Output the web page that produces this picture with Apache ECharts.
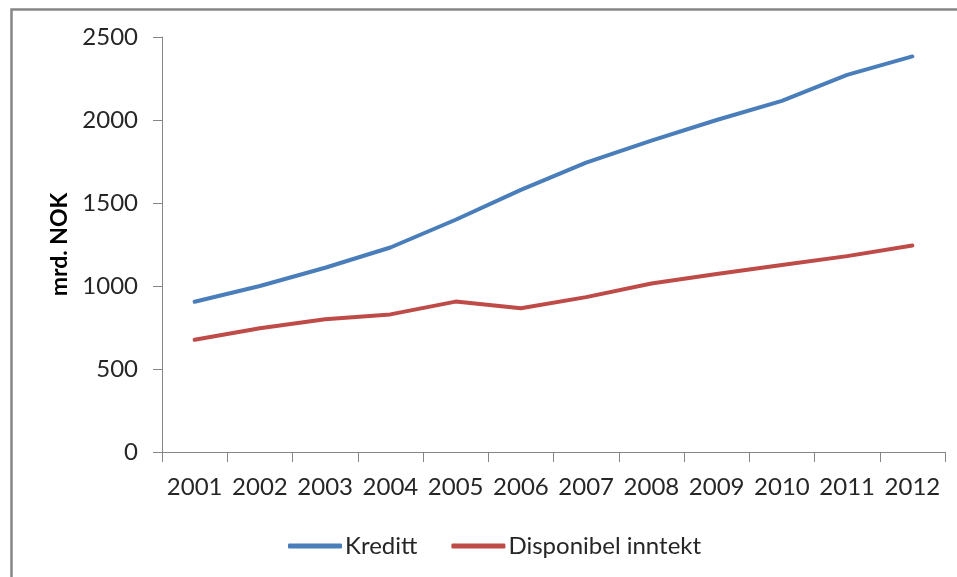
<!DOCTYPE html>
<html>
<head>
<meta charset="utf-8">
<script src="https://cdn.jsdelivr.net/npm/echarts@6/dist/echarts.min.js"></script>
<style>html,body{margin:0;padding:0;background:#fff}#c{width:957px;height:577px}</style>
</head>
<body>
<div id="c"></div>
<script>
const years = ['2001','2002','2003','2004','2005','2006','2007','2008','2009','2010','2011','2012'];
const kreditt = [905, 1000, 1110, 1232, 1399, 1579, 1743, 1876, 2000, 2115, 2272, 2383];
const disponibel = [676, 745, 800, 829, 906, 866, 933, 1015, 1072, 1126, 1180, 1244];
const yTicks = [0, 500, 1000, 1500, 2000, 2500];

const FONT = 'Lato';
const chart = echarts.init(document.getElementById('c'), null, {renderer: 'canvas'});
const axisColor = '#868686';
chart.setOption({
  animation: false,
  backgroundColor: '#fff',
  graphic: [{
    type: 'rect', left: 9, top: 7, shape: {x: 0, y: 0, width: 1000, height: 620},
    style: {fill: 'none', stroke: '#878787', lineWidth: 2.5}, z: -1
  }],
  grid: {left: 162, right: 12, top: 37, bottom: 125, containLabel: false},
  legend: {
    left: 283, top: 529,
    itemWidth: 54, itemHeight: 5, itemGap: 34, icon: 'roundRect',
    textStyle: {fontFamily: FONT, fontSize: 24, color: '#262626', padding: [0,0,0,-2]},
    data: ['Kreditt', 'Disponibel inntekt']
  },
  xAxis: {
    type: 'category', data: years, boundaryGap: true,
    axisLine: {lineStyle: {color: axisColor, width: 1}},
    axisTick: {show: true, length: 10, lineStyle: {color: axisColor}},
    axisLabel: {fontFamily: FONT, fontSize: 24, color: '#262626', margin: 23, interval: 0}
  },
  yAxis: {
    type: 'value', min: yTicks[0], max: yTicks[yTicks.length-1], interval: 500,
    name: 'mrd. NOK', nameLocation: 'middle', nameGap: 88, nameRotate: 90,
    nameTextStyle: {fontFamily: FONT, fontSize: 23, fontWeight: 'bold', color: '#000'},
    axisLine: {show: true, lineStyle: {color: axisColor, width: 1}},
    axisTick: {show: true, length: 9, lineStyle: {color: axisColor}},
    splitLine: {show: false},
    axisLabel: {fontFamily: FONT, fontSize: 24, color: '#262626', margin: 24,
      formatter: v => String(v)}
  },
  series: [
    {name: 'Kreditt', type: 'line', data: kreditt, showSymbol: false, symbol: 'none',
     lineStyle: {color: '#4A7EBB', width: 4, cap: 'round', join: 'round'}, itemStyle: {color: '#4A7EBB'}},
    {name: 'Disponibel inntekt', type: 'line', data: disponibel, showSymbol: false, symbol: 'none',
     lineStyle: {color: '#BE4B48', width: 4, cap: 'round', join: 'round'}, itemStyle: {color: '#BE4B48'}}
  ]
});
</script>
</body>
</html>
